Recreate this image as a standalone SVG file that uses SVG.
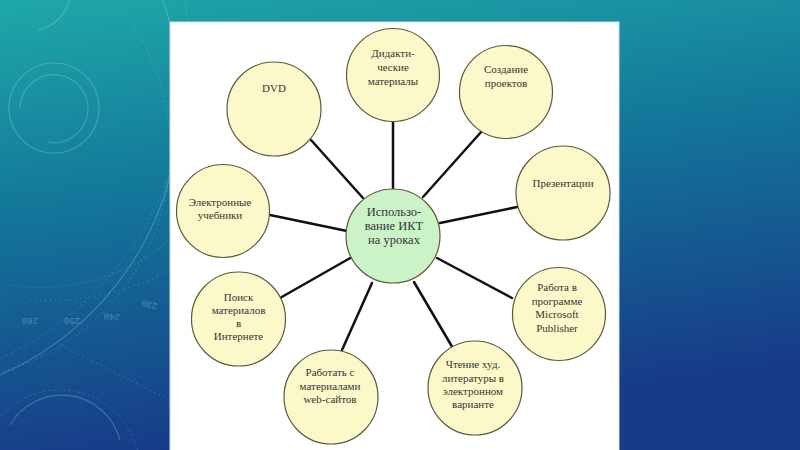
<svg xmlns="http://www.w3.org/2000/svg" width="800" height="450" viewBox="0 0 800 450">
<defs>
<linearGradient id="bg" x1="0" y1="0" x2="0.25" y2="1">
<stop offset="0" stop-color="#1fa8a8"/>
<stop offset="0.45" stop-color="#13769a"/>
<stop offset="1" stop-color="#173a88"/>
</linearGradient>
<style>
.deco{fill:none;stroke:#bfeaf0;stroke-opacity:0.25;stroke-width:1.2}
.decod{fill:none;stroke:#bfeaf0;stroke-opacity:0.2;stroke-width:1;stroke-dasharray:2 3}
.node{fill:#fbf9c9;stroke:#5d5a3c;stroke-width:1.2}
.hub{fill:#ccf2c8;stroke:#5d5a3c;stroke-width:1.2}
.edge{stroke:#111;stroke-width:2.5;stroke-linecap:round}
text{font-family:"Liberation Serif","Times New Roman",serif;font-size:11px;fill:#353535;text-anchor:middle}
.hubt{font-size:12.5px}
.num{font-family:"Liberation Mono",monospace;font-size:9px;fill:#bfeaf0;fill-opacity:0.35}
</style>
</defs>
<rect width="800" height="450" fill="url(#bg)"/>
<g id="decoration">
<circle cx="54" cy="108" r="45" class="deco"/>
<path d="M20 108 A34 34 0 1 1 47 142" class="deco" stroke-width="2.5"/>
<path d="M38 30 A40 40 0 0 0 70 -5" class="deco" stroke-width="2.5"/>
<circle cx="-60" cy="150" r="230" class="decod"/>
<circle cx="-120" cy="100" r="300" class="deco"/>
<circle cx="-140" cy="60" r="330" class="decod"/>
<path d="M10 285 A200 200 0 0 0 170 240" class="deco" stroke-width="3" stroke-dasharray="1 3"/>
<path d="M30 300 A260 260 0 0 0 170 270" class="deco" stroke-width="4" stroke-dasharray="1 4"/>
<path d="M10 425 A60 60 0 0 1 120 440" class="deco" stroke-width="2.5"/>
<circle cx="60" cy="470" r="80" class="decod"/>
<path d="M60 345 L170 400" class="decod"/>
<text class="num" transform="translate(30,318) rotate(180)">260</text>
<text class="num" transform="translate(72,318) rotate(180)">250</text>
<text class="num" transform="translate(112,314) rotate(184)">240</text>
<text class="num" transform="translate(150,302) rotate(195)">230</text>
</g>
<rect id="panel" x="170" y="22" width="449" height="430" fill="#ffffff" stroke="#d8dede" stroke-width="1"/>
<g id="connectors">
<line class="edge" x1="311" y1="140" x2="363" y2="198"/>
<line class="edge" x1="393" y1="121" x2="393" y2="189"/>
<line class="edge" x1="482" y1="131" x2="423" y2="197"/>
<line class="edge" x1="440" y1="223" x2="517" y2="207"/>
<line class="edge" x1="270" y1="215" x2="347" y2="231"/>
<line class="edge" x1="280" y1="298" x2="352" y2="257"/>
<line class="edge" x1="342" y1="350" x2="372" y2="283"/>
<line class="edge" x1="414" y1="282" x2="454" y2="350"/>
<line class="edge" x1="437" y1="258" x2="512" y2="298"/>
</g>
<g id="hub">
<circle class="hub" cx="393" cy="236" r="47"/>
<text class="hubt" x="394" y="216">Использо-</text>
<text class="hubt" x="394" y="230">вание ИКТ</text>
<text class="hubt" x="394" y="244">на уроках</text>
</g>
<g id="dvd">
<circle class="node" cx="274" cy="109" r="47"/>
<text x="274" y="92">DVD</text>
</g>
<g id="didactic">
<circle class="node" cx="393" cy="75" r="46.5"/>
<text x="393" y="57">Дидакти-</text>
<text x="393" y="71">ческие</text>
<text x="393" y="85">материалы</text>
</g>
<g id="projects">
<circle class="node" cx="506" cy="92" r="46.5"/>
<text x="506" y="73">Создание</text>
<text x="506" y="87">проектов</text>
</g>
<g id="presentations">
<circle class="node" cx="563" cy="193" r="47"/>
<text x="563" y="187">Презентации</text>
</g>
<g id="ebooks">
<circle class="node" cx="223" cy="211" r="46.5"/>
<text x="220" y="206">Электронные</text>
<text x="220" y="219">учебники</text>
</g>
<g id="search">
<circle class="node" cx="238.5" cy="319" r="47"/>
<text x="238.5" y="300.5">Поиск</text>
<text x="238.5" y="314">материалов</text>
<text x="238.5" y="327">в</text>
<text x="238.5" y="340">Интернете</text>
</g>
<g id="websites">
<circle class="node" cx="331" cy="397" r="47"/>
<text x="330" y="376">Работать с</text>
<text x="330" y="390">материалами</text>
<text x="330" y="403">web-сайтов</text>
</g>
<g id="reading">
<circle class="node" cx="475" cy="388" r="47"/>
<text x="473" y="368">Чтение худ.</text>
<text x="473" y="382">литературы в</text>
<text x="473" y="395">электронном</text>
<text x="473" y="408">варианте</text>
</g>
<g id="publisher">
<circle class="node" cx="559" cy="314" r="46.5"/>
<text x="557" y="291">Работа в</text>
<text x="557" y="305">программе</text>
<text x="557" y="318">Microsoft</text>
<text x="557" y="331.5">Publisher</text>
</g>
</svg>
